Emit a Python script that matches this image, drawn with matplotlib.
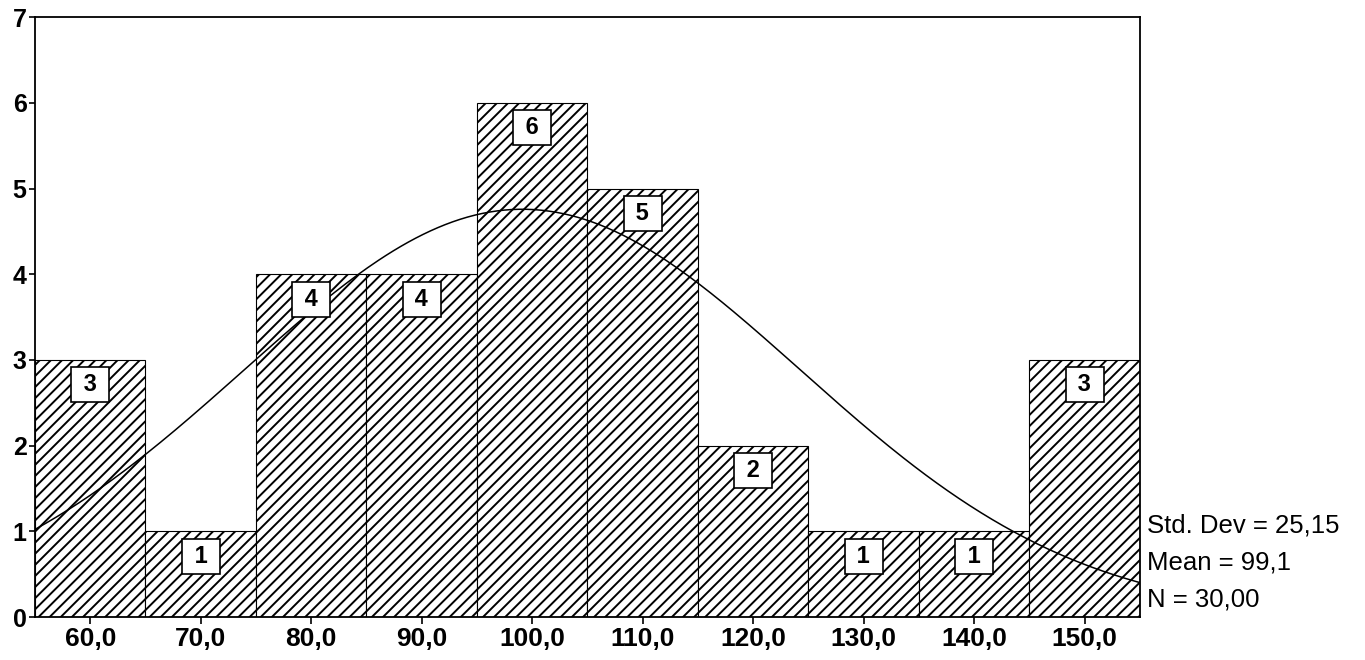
import numpy as np
import matplotlib
matplotlib.use("Agg")
import matplotlib.pyplot as plt  # noqa: E402

# histograma (ancho de clase 10)
bin_edges = [55, 65, 75, 85, 95, 105, 115, 125, 135, 145, 155]
counts = [3, 1, 4, 4, 6, 5, 2, 1, 1, 3]
x_ticks = [60, 70, 80, 90, 100, 110, 120, 130, 140, 150]
x_ticklabels = ["60,0", "70,0", "80,0", "90,0", "100,0", "110,0", "120,0", "130,0", "140,0", "150,0"]
y_ticks = [0, 1, 2, 3, 4, 5, 6, 7]
STD, MEAN, N = 25.15, 99.1, 30
stats_txt = ["Std. Dev = 25,15", "Mean = 99,1", "N = 30,00"]

plt.rcParams["font.family"] = ["Liberation Sans", "DejaVu Sans"]
plt.rcParams["hatch.linewidth"] = 1.4

fig = plt.figure(figsize=(13.65, 6.6), dpi=100)
ax = fig.add_axes([0.0256, 0.065, 0.8095, 0.909])

lefts = np.array(bin_edges[:-1]); widths = np.diff(bin_edges)
ax.bar(lefts, counts, width=widths, align="edge", color="white",
       edgecolor="black", hatch="///", linewidth=0.8)
for l, w, c in zip(lefts, widths, counts):
    ax.text(l + w / 2, c - 0.29, f" {c} ", ha="center", va="center", fontsize=17, weight="bold",
            bbox=dict(boxstyle="square,pad=0.25", fc="white", ec="black", lw=1.2))

# curva normal ajustada (media, desvío y N del cuadro)
xs = np.linspace(bin_edges[0], bin_edges[-1], 300)
bw = bin_edges[1] - bin_edges[0]
ys = N * bw / (STD * np.sqrt(2 * np.pi)) * np.exp(-0.5 * ((xs - MEAN) / STD) ** 2)
ax.plot(xs, ys, color="black", lw=1.1)

ax.set_xlim(bin_edges[0], bin_edges[-1]); ax.set_ylim(0, 7)
ax.set_xticks(x_ticks); ax.set_xticklabels(x_ticklabels, fontsize=19, weight="bold")
ax.set_yticks(y_ticks); ax.set_yticklabels([str(v) for v in y_ticks], fontsize=18, weight="bold")
ax.tick_params(axis="x", length=5, width=1.2, pad=2)
ax.tick_params(axis="y", length=4, width=1.2, pad=2)
for s in ax.spines.values():
    s.set_linewidth(1.3)

for k, t in enumerate(stats_txt):
    fig.text(1147 / 1365, 1 - (525 + 37.5 * k) / 660, t, fontsize=18.5, ha="left", va="center")

fig.savefig("out.png", dpi=100)
